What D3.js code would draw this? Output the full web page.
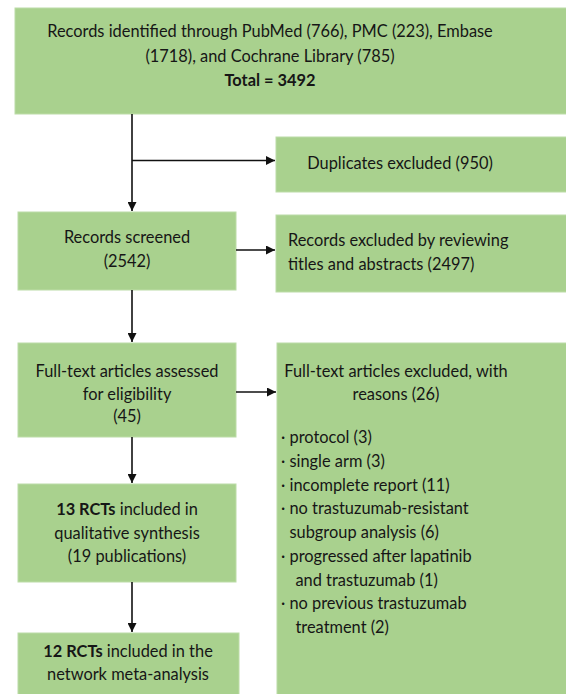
<!DOCTYPE html>
<html>
<head>
<meta charset="utf-8">
<script src="https://cdn.jsdelivr.net/npm/d3@7"></script>
<style>
  html, body { margin: 0; padding: 0; background: #fff; overflow: hidden; }
  svg { display: block; }
  .box { fill: #a9d18e; stroke: #bcdca7; stroke-width: 1; }
  text { fill: #161616; font-family: Lato, "Open Sans", sans-serif; }
  .link { stroke: #111; stroke-width: 1.6; fill: none; }
</style>
</head>
<body>
<div id="chart"></div>
<script>
// Source databases and counts
const sources = ["PubMed", "PMC", "Embase", "Cochrane Library"];
const sourceCounts = [766, 223, 1718, 785];
const totalRecords = 3492;

// Numbers for each stage
const duplicates = 950;
const screened = 2542;
const excludedByTitle = 2497;
const assessed = 45;
const excludedFullText = 26;
const qualitativeRCTs = 13;
const publications = 19;
const networkRCTs = 12;

// Exclusion reasons (text lines; leading spaces = continuation of the previous bullet)
const reasons = ["protocol (3)", "single arm (3)", "incomplete report (11)",
                 "no trastuzumab-resistant", " subgroup analysis (6)",
                 "progressed after lapatinib", "  and trastuzumab (1)",
                 "no previous trastuzumab", "  treatment (2)"];

// Box texts, ** marks bold
const boxText = [
  [`Records identified through ${sources[0]} (${sourceCounts[0]}), ${sources[1]} (${sourceCounts[1]}), ${sources[2]}`,
   `(${sourceCounts[2]}), and ${sources[3]} (${sourceCounts[3]})`,
   `**Total = ${totalRecords}**`],
  [`Duplicates excluded (${duplicates})`],
  ["Records screened", `(${screened})`],
  ["Records excluded by reviewing", `titles and abstracts (${excludedByTitle})`],
  ["Full-text articles assessed", "for eligibility", `(${assessed})`],
  ["Full-text articles excluded, with", `reasons (${excludedFullText})`],
  [`**${qualitativeRCTs} RCTs** included in`, "qualitative synthesis", `(${publications} publications)`],
  [`**${networkRCTs} RCTs** included in the`, "network meta-analysis"]
];

const width = 566, height = 694;

// layout of the boxes
const layout = [
  { x: 15,  y: 8,   w: 560, h: 106, tx: 270, ty: 37,  lh: 24.5, anchor: "middle" },
  { x: 276, y: 137, w: 300, h: 55,  tx: 400, ty: 169, lh: 24,   anchor: "middle" },
  { x: 18,  y: 212, w: 218, h: 78,  tx: 127, ty: 243, lh: 24,   anchor: "middle" },
  { x: 276, y: 215, w: 300, h: 77,  tx: 288, ty: 246, lh: 24,   anchor: "start" },
  { x: 18,  y: 343, w: 218, h: 94,  tx: 127, ty: 377, lh: 22.5, anchor: "middle" },
  { x: 277, y: 343, w: 300, h: 360, tx: 396, ty: 377, lh: 23,   anchor: "middle" },
  { x: 18,  y: 484, w: 218, h: 98,  tx: 127, ty: 515, lh: 23.5, anchor: "middle" },
  { x: 18,  y: 633, w: 221, h: 70,  tx: 128, ty: 657, lh: 23,   anchor: "middle" }
];

const svg = d3.select("#chart")
  .append("svg")
  .attr("width", width)
  .attr("height", height);

svg.append("defs")
  .append("marker")
  .attr("id", "arrow")
  .attr("viewBox", "0 0 10 10")
  .attr("refX", 10)
  .attr("refY", 5)
  .attr("markerWidth", 10)
  .attr("markerHeight", 9)
  .attr("markerUnits", "userSpaceOnUse")
  .attr("orient", "auto")
  .append("path")
  .attr("d", "M0,0 L10,5 L0,10 Z")
  .attr("fill", "#111");

svg.selectAll(".box")
  .data(layout)
  .join("rect")
  .attr("class", "box")
  .attr("x", d => d.x)
  .attr("y", d => d.y)
  .attr("width", d => d.w)
  .attr("height", d => d.h);

// fit the font size so the first line matches the reference width
const probe = svg.append("text").attr("font-size", 16).text(boxText[0][0]);
const fontSize = 16 * 446 / probe.node().getComputedTextLength();
probe.attr("font-size", fontSize).attr("xml:space", "preserve").text("\u00b7 ");
const bulletW = probe.node().getComputedTextLength();
probe.remove();

function addLine(g, str, x, y, anchor) {
  const t = g.append("text")
    .attr("x", x)
    .attr("y", y)
    .attr("text-anchor", anchor)
    .attr("font-size", fontSize)
    .attr("xml:space", "preserve");
  str.split(/(\*\*[^*]+\*\*)/).filter(s => s.length).forEach(s => {
    const bold = s.startsWith("**");
    t.append("tspan")
      .attr("font-weight", bold ? "bold" : null)
      .text(bold ? s.slice(2, -2) : s);
  });
}

const textG = svg.append("g");
boxText.forEach((lines, i) => {
  const l = layout[i];
  lines.forEach((line, j) => addLine(textG, line, l.tx, l.ty + j * l.lh, l.anchor));
});

// bullet list in the big exclusion box
const reasonTop = 443, reasonStep = 23.75, reasonX = 281;
reasons.forEach((r, i) => {
  const cont = r.startsWith(" ");
  const str = cont ? r.trim() : "\u00b7 " + r;
  let x = reasonX;
  if (cont) x = reasonX + bulletW + (r.startsWith("  ") ? 6 : 0);
  addLine(textG, str, x, reasonTop + i * reasonStep, "start");
});

// connectors
const links = [
  [[132, 114], [132, 211]],
  [[132, 160.5], [275, 160.5]],
  [[236, 250], [275, 250]],
  [[132, 290], [132, 342]],
  [[236, 392], [276, 392]],
  [[132, 437], [132, 483]],
  [[132, 582], [132, 632]]
];

svg.selectAll(".link")
  .data(links)
  .join("path")
  .attr("class", "link")
  .attr("d", d3.line())
  .attr("marker-end", "url(#arrow)");
</script>
</body>
</html>
